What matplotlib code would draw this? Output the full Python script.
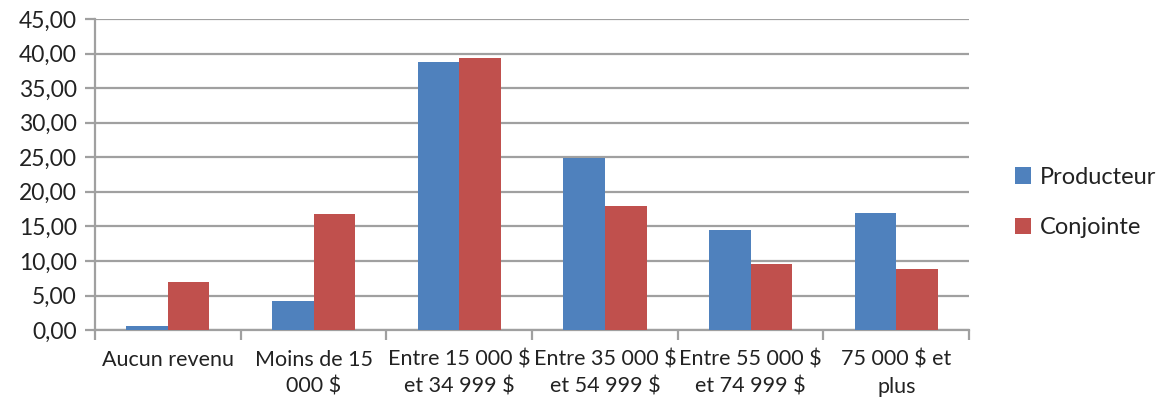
import numpy as np
import matplotlib
matplotlib.use("Agg")
import matplotlib.pyplot as plt

categories = ["Aucun revenu", "Moins de 15\n000 $", "Entre 15 000 $\net 34 999 $",
              "Entre 35 000 $\net 54 999 $", "Entre 55 000 $\net 74 999 $", "75 000 $ et\nplus"]
producteur = [0.6, 4.2, 38.8, 24.9, 14.5, 16.9]
conjointe = [7.0, 16.8, 39.3, 18.0, 9.6, 8.9]
yticks = [0, 5, 10, 15, 20, 25, 30, 35, 40, 45]

plt.rcParams['font.family'] = ['Lato', 'DejaVu Sans']

fig = plt.figure(figsize=(11.64, 4.04), dpi=100)
ax = fig.add_axes([0.0816, 0.183, 0.751, 0.770])

x = np.arange(len(categories))
w = 1 / 3.5
grid_col = '#a0a0a0'

ax.bar(x - w / 2, producteur, w, color='#4F81BD', label='Producteur', zorder=3)
ax.bar(x + w / 2, conjointe, w, color='#C0504D', label='Conjointe', zorder=3)

ax.set_xlim(-0.5, len(categories) - 0.5)
ax.set_ylim(0, 45)
ax.set_yticks(yticks)
ax.set_yticklabels([("%.2f" % v).replace('.', ',') for v in yticks], fontsize=16.5, color='#222222')
ax.yaxis.grid(True, color=grid_col, linewidth=1.6, zorder=0)

ax.set_xticks(x)
ax.set_xticklabels(categories, fontsize=15.5, linespacing=1.45, color='#222222')
ax.set_xticks(np.arange(len(categories) + 1) - 0.5, minor=True)
ax.tick_params(axis='x', which='major', length=0, pad=14)
ax.tick_params(axis='x', which='minor', length=7, width=1.6, color=grid_col)
ax.tick_params(axis='y', length=7, width=1.6, color=grid_col, pad=6)

for s in ['top', 'right']:
    ax.spines[s].set_visible(False)
for s in ['left', 'bottom']:
    ax.spines[s].set_color(grid_col)
    ax.spines[s].set_linewidth(1.6)

leg = ax.legend(loc='center left', bbox_to_anchor=(1.028, 0.41), frameon=False, fontsize=17,
                handlelength=0.7, handleheight=0.7, handletextpad=0.35, labelspacing=1.25)
for t in leg.get_texts():
    t.set_color('#222222')

fig.savefig("out.png", dpi=100)
